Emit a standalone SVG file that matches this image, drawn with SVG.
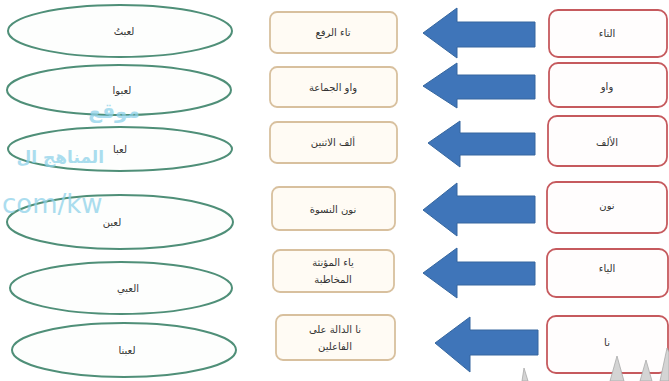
<svg xmlns="http://www.w3.org/2000/svg" width="669" height="381" viewBox="0 0 669 381">
<style>
.bg{fill:#ffffff}
.ell{fill:#fdfefd;stroke:#4f8f78;stroke-width:2}
.red{fill:#fffdfd;stroke:#c65a5e;stroke-width:1.8}
.tan{fill:#fffbf4;stroke:#d8c09e;stroke-width:1.8}
.arr{fill:#3f75b9;stroke:#36679f;stroke-width:1}
.t{font-family:"DejaVu Sans",sans-serif;font-size:10px;fill:#333;text-anchor:middle}
.wm{font-family:"DejaVu Sans",sans-serif;fill:#8fd2ea;opacity:0.75}
.spike{fill:#d4d4d4;stroke:#aaaaaa;stroke-width:0.8}
</style>
<rect class="bg" x="0" y="0" width="669" height="381"/>

<g id="ellipses">
<g id="e1"><ellipse class="ell" cx="120" cy="31" rx="112" ry="26"/><text class="t" x="124" y="35">لعبتُ</text></g>
<g id="e2"><ellipse class="ell" cx="119" cy="90" rx="112" ry="25"/><text class="t" x="122" y="94">لعبوا</text></g>
<g id="e3"><ellipse class="ell" cx="120" cy="149" rx="112" ry="22"/><text class="t" x="120" y="153">لعبا</text></g>
<g id="e4"><ellipse class="ell" cx="120" cy="222" rx="113" ry="27"/><text class="t" x="112" y="226">لعبن</text></g>
<g id="e5"><ellipse class="ell" cx="121" cy="288" rx="111" ry="26"/><text class="t" x="128" y="292">العبي</text></g>
<g id="e6"><ellipse class="ell" cx="124" cy="350" rx="112" ry="27"/><text class="t" x="127" y="354">لعبنا</text></g>
</g>

<g id="watermark">
<text class="wm" x="140" y="118" font-size="20" font-weight="bold" text-anchor="end">موقع</text>
<text class="wm" x="104" y="163" font-size="17" font-weight="bold" text-anchor="end">المناهج ال</text>
<text class="wm" x="2" y="213" font-size="26">com/kw</text>
</g>

<g id="middle">
<g id="m1"><rect class="tan" x="270" y="12" width="127" height="41" rx="7"/><text class="t" x="333" y="36">تاء الرفع</text></g>
<g id="m2"><rect class="tan" x="270" y="67" width="127" height="40" rx="7"/><text class="t" x="333" y="91">واو الجماعة</text></g>
<g id="m3"><rect class="tan" x="270" y="122" width="127" height="41" rx="7"/><text class="t" x="333" y="146">ألف الاثنين</text></g>
<g id="m4"><rect class="tan" x="272" y="187" width="123" height="43" rx="7"/><text class="t" x="333" y="213">نون النسوة</text></g>
<g id="m5"><rect class="tan" x="273" y="250" width="121" height="42" rx="7"/><text class="t" x="333" y="266">ياء المؤنثة</text><text class="t" x="333" y="283">المخاطبة</text></g>
<g id="m6"><rect class="tan" x="276" y="315" width="119" height="45" rx="7"/><text class="t" x="335" y="333">نا الدالة على</text><text class="t" x="335" y="350">الفاعلين</text></g>
</g>

<g id="right">
<g id="r1"><rect class="red" x="549" y="10" width="118" height="47" rx="9"/><text class="t" x="607" y="37">التاء</text></g>
<g id="r2"><rect class="red" x="549" y="63" width="118" height="44" rx="9"/><text class="t" x="607" y="90">واو</text></g>
<g id="r3"><rect class="red" x="548" y="116" width="119" height="50" rx="9"/><text class="t" x="607" y="146">الألف</text></g>
<g id="r4"><rect class="red" x="547" y="182" width="120" height="51" rx="9"/><text class="t" x="607" y="209">نون</text></g>
<g id="r5"><rect class="red" x="547" y="249" width="121" height="48" rx="9"/><text class="t" x="607" y="272">الياء</text></g>
<g id="r6"><rect class="red" x="547" y="316" width="121" height="57" rx="9"/><text class="t" x="607" y="346">نا</text></g>
</g>

<g id="connectors">
<polygon class="arr" points="423,33 457,8 457,22 535,22 535,47 457,47 457,58"/>
<polygon class="arr" points="423,86 457,63 457,75 535,75 535,99 457,99 457,108"/>
<polygon class="arr" points="428,143 460,121 460,133 535,133 535,155 460,155 460,167"/>
<polygon class="arr" points="423,210 457,183 457,196 535,196 535,223 457,223 457,236"/>
<polygon class="arr" points="423,273 457,248 457,262 535,262 535,285 457,285 457,298"/>
<polygon class="arr" points="435,343 470,317 470,330 538,330 538,355 470,355 470,372"/>
</g>

<g id="marks">
<polygon class="spike" points="522,381 524,368 528,381"/>
<polygon class="spike" points="610,381 617,356 624,381"/>
<polygon class="spike" points="640,381 646,360 652,381"/>
<polygon class="spike" points="660,381 667,348 669,352 669,381"/>
</g>
</svg>
